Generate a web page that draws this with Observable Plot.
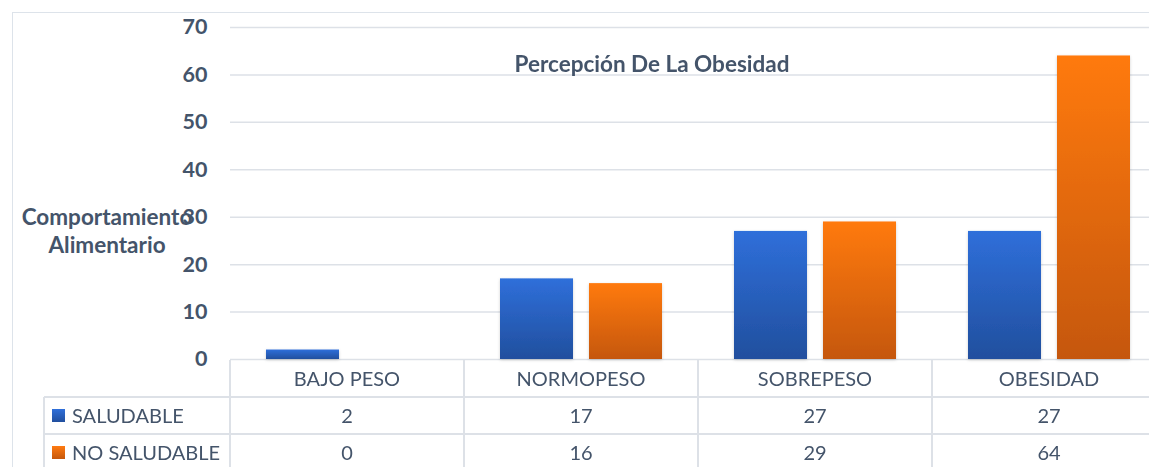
<!DOCTYPE html>
<html><head><meta charset="utf-8">
<script src="https://cdn.jsdelivr.net/npm/d3@7"></script>
<script src="https://cdn.jsdelivr.net/npm/@observablehq/plot@0.6"></script>
<style>
html,body{margin:0;padding:0;background:#fff;overflow:hidden;}
#wrap{position:relative;width:1166px;height:467px;font-family:Lato,"Open Sans",sans-serif;color:#44546a;overflow:hidden;}
#frame{position:absolute;left:12px;top:12px;width:2000px;height:1000px;border:1.5px solid #dde3ea;box-sizing:border-box;}
#plot{position:absolute;left:0;top:0;}
.ttl{position:absolute;font-weight:700;font-size:22.5px;line-height:28px;text-align:center;white-space:nowrap;color:#44546a;}
.cell{position:absolute;font-size:20px;line-height:37px;text-align:center;white-space:nowrap;color:#44546a;}
.hl{position:absolute;height:1.5px;background:#dde1e7;}
.vl{position:absolute;width:1.5px;background:#dde1e7;}
.key{position:absolute;width:13px;height:13px;}
.chart [aria-label="y-axis tick label"] text{font-weight:700;}
</style></head>
<body><div id="wrap"><div id="frame"></div><div id="plot"></div></div>
<script>
const categories = ["BAJO PESO", "NORMOPESO", "SOBREPESO", "OBESIDAD"];
const series = ["SALUDABLE", "NO SALUDABLE"];
const saludable = [2, 17, 27, 27];
const noSaludable = [0, 16, 29, 64];
const yTicks = [0, 10, 20, 30, 40, 50, 60, 70];
const chartTitle = "Percepción De La Obesidad";
const yTitle = ["Comportamiento", "Alimentario"];
const gradients = {
  "SALUDABLE": ["#2f6fda", "#214f9e"],
  "NO SALUDABLE": ["#ff7a10", "#c5570b"]
};
const gradId = {"SALUDABLE": "gBlue", "NO SALUDABLE": "gOrange"};

const data = [];
categories.forEach((c, i) => {
  data.push({cat: c, series: series[0], value: saludable[i]});
  data.push({cat: c, series: series[1], value: noSaludable[i]});
});

const chart = Plot.plot({
  width: 1166,
  height: 360,
  marginLeft: 229,
  marginRight: 0,
  marginTop: 27,
  marginBottom: 1,
  className: "chart",
  style: {fontFamily: "Lato, 'Open Sans', sans-serif", fontSize: "21.5px", color: "#44546a", background: "transparent", maxWidth: "none", overflow: "visible"},
  fx: {domain: categories, padding: 0, axis: null, label: null},
  x: {domain: series, paddingInner: 0.178, paddingOuter: 0.39, axis: null, label: null},
  y: {domain: [0, 70], ticks: yTicks, tickSize: 0, tickPadding: 23, label: null, tickFormat: d => String(d)},
  marks: [
    Plot.ruleY(yTicks, {stroke: "#dde1e7", strokeWidth: 1.5}),
    ...series.map(s => Plot.barY(data.filter(d => d.series === s), {
      fx: "cat", x: "series", y: "value",
      fill: `url(#${gradId[s]})`, filter: d => d.value > 0
    }))
  ]
});

// gradient + shadow defs
const NS = "http://www.w3.org/2000/svg";
const defs = document.createElementNS(NS, "defs");
for (const s of series) {
  const g = document.createElementNS(NS, "linearGradient");
  g.setAttribute("id", gradId[s]);
  g.setAttribute("x1", "0"); g.setAttribute("y1", "0");
  g.setAttribute("x2", "0"); g.setAttribute("y2", "1");
  gradients[s].forEach((col, i) => {
    const st = document.createElementNS(NS, "stop");
    st.setAttribute("offset", i ? "1" : "0");
    st.setAttribute("stop-color", col);
    g.appendChild(st);
  });
  defs.appendChild(g);
}
const f = document.createElementNS(NS, "filter");
f.setAttribute("id", "shadow");
f.setAttribute("x", "-20%"); f.setAttribute("y", "-20%");
f.setAttribute("width", "140%"); f.setAttribute("height", "140%");
const ds = document.createElementNS(NS, "feDropShadow");
ds.setAttribute("dx", "0"); ds.setAttribute("dy", "1");
ds.setAttribute("stdDeviation", "1.5");
ds.setAttribute("flood-color", "#000"); ds.setAttribute("flood-opacity", "0.18");
f.appendChild(ds);
defs.appendChild(f);
chart.insertBefore(defs, chart.firstChild);
chart.querySelectorAll('g[aria-label="bar"]').forEach(g => g.setAttribute("filter", "url(#shadow)"));

const wrap = document.getElementById("wrap");
document.getElementById("plot").appendChild(chart);

function add(cls, styles, text) {
  const el = document.createElement("div");
  el.className = cls;
  Object.assign(el.style, styles);
  if (text != null) el.textContent = text;
  wrap.appendChild(el);
  return el;
}

// titles
add("ttl", {left: "452px", width: "400px", top: "50px"}, chartTitle);
add("ttl", {left: "0px", width: "214px", top: "203px"}, null).innerHTML = yTitle.join("<br>");

// data table using the facet scale
const fx = chart.scale("fx");
const bw = fx.bandwidth;
const y0 = 360, rowH = 37;
const leftLabel = 44;
const right = 1166;
add("hl", {left: leftLabel + "px", width: (right - leftLabel) + "px", top: (y0 + rowH - 0.75) + "px"});
add("hl", {left: leftLabel + "px", width: (right - leftLabel) + "px", top: (y0 + 2 * rowH - 0.75) + "px"});
add("vl", {left: (leftLabel - 0.75) + "px", top: (y0 + rowH) + "px", height: "200px"});
categories.forEach((c, i) => {
  const xl = fx.apply(c);
  add("vl", {left: (xl - 0.75) + "px", top: y0 + "px", height: "200px"});
  add("cell", {left: xl + "px", width: bw + "px", top: y0 + "px"}, c);
  add("cell", {left: xl + "px", width: bw + "px", top: (y0 + rowH) + "px"}, String(saludable[i]));
  add("cell", {left: xl + "px", width: bw + "px", top: (y0 + 2 * rowH) + "px"}, String(noSaludable[i]));
});
series.forEach((s, j) => {
  const top = y0 + (j + 1) * rowH;
  add("key", {left: "52px", top: (top + 12) + "px", background: `linear-gradient(${gradients[s][0]}, ${gradients[s][1]})`});
  add("cell", {left: "72px", top: top + "px", textAlign: "left"}, s);
});
</script></body></html>
